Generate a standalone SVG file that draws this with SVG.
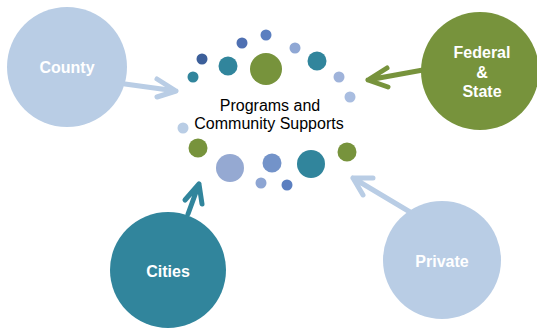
<svg xmlns="http://www.w3.org/2000/svg" width="537" height="328" viewBox="0 0 537 328">
<style>
.lbl{font-family:"Liberation Sans",Arial,sans-serif;font-weight:bold;font-size:16px;fill:#ffffff;text-anchor:middle}
.ctr{font-family:"Liberation Sans",Arial,sans-serif;font-size:16px;fill:#000000;text-anchor:middle}
.arr{fill:none;stroke-width:5;stroke-linecap:round;stroke-linejoin:round}
.lb{fill:#b9cde5}.gr{fill:#77933c}.tl{fill:#31859c}
</style>
<rect width="537" height="328" fill="#ffffff"/>
<g id="connectors">
<path class="arr" stroke="#b9cde5" d="M125 84 L176 91 M157 79 L176 91 L157 97"/>
<path class="arr" stroke="#77933c" d="M423 70 L368 80 M387 68 L368 80 L388 87"/>
<path class="arr" stroke="#31859c" d="M188 214 L199 184 M185 200 L199 184 L202 204"/>
<path class="arr" stroke="#b9cde5" d="M410 212 L353 178 M363 195 L353 178 L373 178"/>
</g>
<g id="county"><circle class="lb" cx="67" cy="67" r="60"/><text class="lbl" x="67" y="73">County</text></g>
<g id="federal"><circle class="gr" cx="480" cy="71" r="59"/><text class="lbl" x="482" y="58">Federal</text><text class="lbl" x="482" y="78">&amp;</text><text class="lbl" x="482" y="97">State</text></g>
<g id="cities"><circle class="tl" cx="168" cy="270" r="58"/><text class="lbl" x="168" y="277">Cities</text></g>
<g id="private"><circle class="lb" cx="442" cy="260" r="59"/><text class="lbl" x="442" y="267">Private</text></g>
<g id="center">
<circle cx="266" cy="35" r="5.5" fill="#5b7fc0"/>
<circle cx="242" cy="43" r="5.5" fill="#4f70b2"/>
<circle cx="202" cy="59" r="5.5" fill="#3c5f9a"/>
<circle cx="228" cy="66" r="9.5" fill="#31859c"/>
<circle cx="266" cy="69" r="16" fill="#77933c"/>
<circle cx="295" cy="48" r="5.5" fill="#8fa7d4"/>
<circle cx="317" cy="61" r="9.5" fill="#31859c"/>
<circle cx="193" cy="77" r="5.5" fill="#31859c"/>
<circle cx="339" cy="77" r="5.5" fill="#9fb3da"/>
<circle cx="350" cy="97" r="5.5" fill="#a9bde0"/>
<circle cx="183" cy="128" r="5.5" fill="#b9cde5"/>
<circle cx="198" cy="148" r="9.5" fill="#77933c"/>
<circle cx="230" cy="168" r="14" fill="#95a9d2"/>
<circle cx="272" cy="163" r="9.5" fill="#7393c9"/>
<circle cx="311" cy="164" r="14" fill="#31859c"/>
<circle cx="347" cy="152" r="9.5" fill="#77933c"/>
<circle cx="261" cy="183" r="5.5" fill="#8da5d3"/>
<circle cx="287" cy="185" r="5.5" fill="#5b7fc0"/>
<text class="ctr" x="270" y="111">Programs and</text>
<text class="ctr" x="269" y="129">Community Supports</text>
</g>
</svg>
